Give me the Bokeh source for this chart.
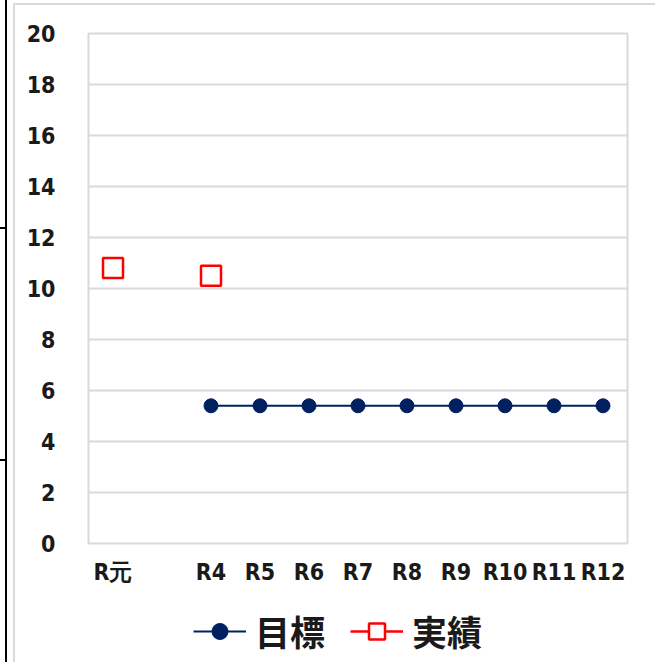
from bokeh.plotting import figure
from bokeh.layouts import column
from bokeh.models import (FactorRange, Range1d, Legend, LegendItem, FixedTicker,
                          ColumnDataSource)
from bokeh.embed import file_html
from bokeh.resources import INLINE

# ---- data ----
categories = ["R元", " ", "R4", "R5", "R6", "R7", "R8", "R9", "R10", "R11", "R12"]
target_years = ["R4", "R5", "R6", "R7", "R8", "R9", "R10", "R11", "R12"]
target_values = [5.4, 5.4, 5.4, 5.4, 5.4, 5.4, 5.4, 5.4, 5.4]
actual_years = ["R元", "R4"]
actual_values = [10.8, 10.5]
y_ticks = [0, 2, 4, 6, 8, 10, 12, 14, 16, 18, 20]
series_names = ["目標", "実績"]

NAVY = "#002060"
RED = "#FF0000"
GRID = "#d9d9d9"
NUM_FONT = "DejaVu Sans Condensed"

target_src = ColumnDataSource(data=dict(x=target_years, y=target_values))
actual_src = ColumnDataSource(data=dict(x=actual_years, y=actual_values))

x_range = FactorRange(factors=categories)

# main chart: canvas starts at page (15, 5)
p = figure(width=640, height=595, x_range=x_range,
           y_range=Range1d(0, 20), output_backend="svg", toolbar_location=None,
           min_border_left=73, min_border_right=28, min_border_top=28,
           min_border_bottom=57)

p.outline_line_color = GRID
p.outline_line_width = 2
p.background_fill_color = "white"
p.border_fill_color = "white"

p.xgrid.grid_line_color = None
p.ygrid.grid_line_color = GRID
p.ygrid.grid_line_width = 2

p.yaxis.ticker = FixedTicker(ticks=y_ticks)
for ax in (p.xaxis[0], p.yaxis[0]):
    ax.axis_line_color = None
    ax.major_tick_line_color = None
    ax.minor_tick_line_color = None
    ax.major_tick_out = 0
    ax.major_tick_in = 0
    ax.major_label_text_font = NUM_FONT
    ax.major_label_text_font_size = "23px"
    ax.major_label_text_font_style = "bold"
    ax.major_label_text_color = "#1a1a1a"
p.yaxis.major_label_standoff = 33
p.xaxis.major_label_standoff = 15

p.line(x="x", y="y", source=target_src, line_color=NAVY, line_width=2)
p.scatter(x="x", y="y", source=target_src, marker="circle", size=14,
          fill_color=NAVY, line_color=NAVY)
p.scatter(x="x", y="y", source=actual_src, marker="square", size=20,
          fill_color="white", line_color=RED, line_width=2.5)

# legend strip: a separate borderless figure below the chart; its y window
# is far away from the data so only the legend shows
lf = figure(width=640, height=62, x_range=x_range, y_range=Range1d(-100, -99),
            output_backend="svg", toolbar_location=None,
            min_border=0, min_border_left=0, min_border_right=0,
            min_border_top=0, min_border_bottom=0)
lf.axis.visible = False
lf.grid.visible = False
lf.outline_line_color = None
lf.border_fill_color = "white"
l_line = lf.line(x="x", y="y", source=target_src, line_color=NAVY, line_width=2)
l_circ = lf.scatter(x="x", y="y", source=target_src, marker="circle",
                    fill_color=NAVY, line_color=NAVY)
l_red = lf.line(x="x", y="y", source=actual_src, line_color=RED, line_width=2.5)
l_sq = lf.scatter(x="x", y="y", source=actual_src, marker="square",
                  fill_color="white", line_color=RED, line_width=2.5)
legend = Legend(items=[LegendItem(label=series_names[0], renderers=[l_line, l_circ]),
                       LegendItem(label=series_names[1], renderers=[l_red, l_sq])],
                orientation="horizontal", location=(105, 6),
                glyph_width=53, glyph_height=40, label_standoff=9, spacing=25,
                padding=0, margin=0, border_line_color=None,
                background_fill_alpha=0,
                label_text_font="Noto Sans CJK JP", label_text_font_size="35px",
                label_text_font_style="bold", label_text_color="#1a1a1a",
                label_height=40)
lf.add_layout(legend, "center")

# chart-area border (grey) and sheet cell border with small ticks (black), as CSS
inner = column(p, lf, spacing=0,
               styles={"border-top": f"2px solid {GRID}", "border-left": f"2px solid {GRID}"})
outer = column(inner, styles={
    "padding-left": "13px", "padding-top": "3px",
    "background-image": ("linear-gradient(black, black), linear-gradient(black, black), "
                         "linear-gradient(black, black)"),
    "background-position": "5px 0px, 0px 227px, 0px 459px",
    "background-size": "2px 100%, 6px 2px, 6px 2px",
    "background-repeat": "no-repeat",
})

open("out.html", "w").write(file_html(outer, INLINE))
